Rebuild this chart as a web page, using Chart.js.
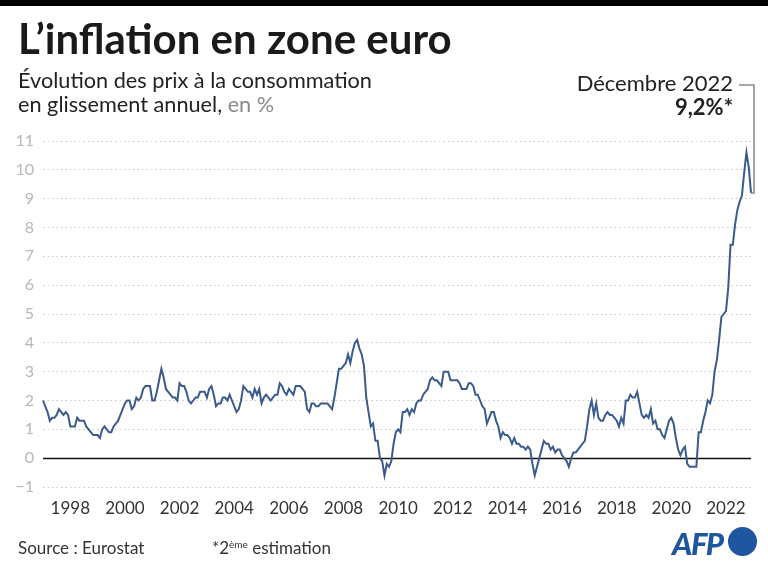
<!DOCTYPE html>
<html lang="fr">
<head>
<meta charset="utf-8">
<script src="https://cdn.jsdelivr.net/npm/chart.js@4.4.0/dist/chart.umd.min.js"></script>
<style>
  html, body { margin: 0; padding: 0; background: #fff; }
  body { width: 768px; height: 572px; position: relative; overflow: hidden;
         font-family: Lato, "Open Sans", sans-serif; color: #1a1a1a; }
  #chart { position: absolute; left: 0; top: 0; }
  .txt { position: absolute; white-space: nowrap; }
  #topbar { position: absolute; left: 0; top: 0; width: 768px; height: 6px; background: #000; }
  #title { left: 18px; top: 13px; font-size: 42px; font-weight: 700; }
  #subtitle { left: 18px; top: 68px; font-size: 21.7px; line-height: 24px; color: #222; }
  .light { color: #8a8a8a; }
  #annot { right: 35px; top: 71px; text-align: right; font-size: 22px; line-height: 24px; color: #222; }
  #annot b { font-weight: 700; }
  #source { left: 18px; top: 537px; font-size: 17px; color: #333; }
  #note { left: 212px; top: 537px; font-size: 17px; color: #333; }
  #note sup { font-size: 10px; vertical-align: 6px; }
  #afp { left: 672px; top: 524px; font-size: 31px; font-weight: 900; font-style: italic;
         color: #1f56a0; letter-spacing: -1.5px; }
  #dot { position: absolute; left: 728px; top: 527px; width: 29px; height: 29px;
         border-radius: 50%; background: #1f56a0; }
</style>
</head>
<body>
<canvas id="chart" width="768" height="572"></canvas>
<div id="topbar"></div>
<div class="txt" id="title">L’inflation en zone euro</div>
<div class="txt" id="subtitle">Évolution des prix à la consommation<br>en glissement annuel, <span class="light">en %</span></div>
<div class="txt" id="annot">Décembre 2022<br><b>9,2%*</b></div>
<div class="txt" id="source">Source : Eurostat</div>
<div class="txt" id="note">*2<sup>ème</sup> estimation</div>
<div class="txt" id="afp">AFP</div>
<div id="dot"></div>
<script>
// years and months of the series (Jan 1997 - Dec 2022)
const years = [1997, 1998, 1999, 2000, 2001, 2002, 2003, 2004, 2005, 2006, 2007, 2008, 2009,
               2010, 2011, 2012, 2013, 2014, 2015, 2016, 2017, 2018, 2019, 2020, 2021, 2022];
const monthNames = ["01", "02", "03", "04", "05", "06", "07", "08", "09", "10", "11", "12"];

// annual rate of change, %, one row per year
const inflation = [
  2.0, 1.8, 1.6, 1.3, 1.4, 1.4, 1.5, 1.7, 1.6, 1.5, 1.6, 1.5,   // 1997
  1.1, 1.1, 1.1, 1.4, 1.3, 1.3, 1.3, 1.1, 1.0, 0.9, 0.8, 0.8,   // 1998
  0.8, 0.7, 1.0, 1.1, 1.0, 0.9, 0.9, 1.1, 1.2, 1.3, 1.5, 1.7,   // 1999
  1.9, 2.0, 2.0, 1.7, 1.8, 2.1, 2.0, 2.1, 2.4, 2.5, 2.5, 2.5,   // 2000
  2.0, 2.0, 2.3, 2.7, 3.1, 2.8, 2.4, 2.3, 2.2, 2.1, 2.1, 2.0,   // 2001
  2.6, 2.5, 2.5, 2.3, 2.0, 1.9, 2.0, 2.1, 2.1, 2.3, 2.3, 2.3,   // 2002
  2.1, 2.4, 2.5, 2.2, 1.8, 1.9, 1.9, 2.1, 2.1, 2.0, 2.2, 2.0,   // 2003
  1.8, 1.6, 1.7, 2.0, 2.5, 2.4, 2.3, 2.3, 2.1, 2.4, 2.2, 2.4,   // 2004
  1.9, 2.1, 2.2, 2.1, 2.0, 2.1, 2.2, 2.2, 2.6, 2.5, 2.3, 2.2,   // 2005
  2.4, 2.3, 2.2, 2.5, 2.5, 2.5, 2.4, 2.3, 1.7, 1.6, 1.9, 1.9,   // 2006
  1.8, 1.8, 1.9, 1.9, 1.9, 1.9, 1.8, 1.7, 2.1, 2.6, 3.1, 3.1,   // 2007
  3.2, 3.3, 3.6, 3.3, 3.7, 4.0, 4.1, 3.8, 3.6, 3.2, 2.1, 1.6,   // 2008
  1.1, 1.2, 0.6, 0.6, 0.0, -0.1, -0.6, -0.2, -0.3, -0.1, 0.5, 0.9, // 2009
  1.0, 0.9, 1.6, 1.6, 1.7, 1.5, 1.7, 1.6, 1.9, 2.0, 2.0, 2.2,   // 2010
  2.3, 2.4, 2.7, 2.8, 2.7, 2.7, 2.6, 2.5, 3.0, 3.0, 3.0, 2.7,   // 2011
  2.7, 2.7, 2.7, 2.6, 2.4, 2.4, 2.4, 2.6, 2.6, 2.5, 2.2, 2.2,   // 2012
  2.0, 1.8, 1.7, 1.2, 1.4, 1.6, 1.6, 1.3, 1.1, 0.7, 0.9, 0.8,   // 2013
  0.8, 0.7, 0.5, 0.7, 0.5, 0.5, 0.4, 0.4, 0.3, 0.4, 0.3, -0.2,  // 2014
  -0.6, -0.3, 0.0, 0.3, 0.6, 0.5, 0.5, 0.3, 0.4, 0.2, 0.3, 0.3, // 2015
  0.1, 0.0, -0.1, -0.3, 0.0, 0.2, 0.2, 0.3, 0.4, 0.5, 0.6, 1.1, // 2016
  1.7, 2.0, 1.5, 1.9, 1.4, 1.3, 1.3, 1.5, 1.6, 1.5, 1.5, 1.4,   // 2017
  1.3, 1.1, 1.4, 1.2, 2.0, 2.0, 2.2, 2.1, 2.1, 2.3, 1.9, 1.5,   // 2018
  1.4, 1.5, 1.4, 1.7, 1.2, 1.3, 1.0, 1.0, 0.8, 0.7, 1.0, 1.3,   // 2019
  1.4, 1.2, 0.7, 0.3, 0.1, 0.3, 0.4, -0.2, -0.3, -0.3, -0.3, -0.3, // 2020
  0.9, 0.9, 1.3, 1.6, 2.0, 1.9, 2.2, 3.0, 3.4, 4.1, 4.9, 5.0,   // 2021
  5.1, 5.9, 7.4, 7.4, 8.1, 8.6, 8.9, 9.1, 9.9, 10.6, 10.1, 9.2  // 2022
];

const xTickYears = ["1998", "2000", "2002", "2004", "2006", "2008", "2010",
                    "2012", "2014", "2016", "2018", "2020", "2022"];
const yTickLabels = ["−1", "0", "1", "2", "3", "4", "5", "6", "7", "8", "9", "10", "11"];

const labels = [];
years.forEach(y => monthNames.forEach(m => labels.push(y + "-" + m)));

// solid zero line + the leader from the "Décembre 2022" note to the last point
const overlay = {
  id: "overlay",
  beforeDatasetsDraw(chart) {
    const { ctx, chartArea, scales: { y } } = chart;
    const y0 = Math.round(y.getPixelForValue(0)) + 0.5;
    ctx.save();
    ctx.strokeStyle = "#111";
    ctx.lineWidth = 1.5;
    ctx.beginPath();
    ctx.moveTo(chartArea.left, y0);
    ctx.lineTo(chartArea.right, y0);
    ctx.stroke();
    ctx.restore();
  },
  afterDatasetsDraw(chart) {
    const { ctx, scales: { x, y } } = chart;
    const last = inflation.length - 1;
    const px = x.getPixelForValue(last);
    const py = y.getPixelForValue(inflation[last]);
    const lx = px + 3;
    ctx.save();
    ctx.strokeStyle = "#8c8c8c";
    ctx.lineWidth = 1.5;
    ctx.beginPath();
    ctx.moveTo(739, 85);
    ctx.lineTo(lx, 85);
    ctx.lineTo(lx, py);
    ctx.lineTo(px, py);
    ctx.stroke();
    ctx.restore();
  }
};

new Chart(document.getElementById("chart"), {
  type: "line",
  data: {
    labels: labels,
    datasets: [{
      data: inflation,
      borderColor: "#3b5b8c",
      borderWidth: 2,
      pointRadius: 0,
      tension: 0,
      fill: false
    }]
  },
  options: {
    responsive: false,
    animation: false,
    events: [],
    layout: { padding: { left: 0, right: 17, top: 141, bottom: 50 } },
    plugins: { legend: { display: false }, tooltip: { enabled: false } },
    scales: {
      x: {
        type: "category",
        offset: false,
        grid: { display: false, drawTicks: false },
        border: { display: false },
        ticks: {
          autoSkip: false,
          maxRotation: 0,
          padding: 11,
          color: "#333",
          font: { family: "Lato", size: 17 },
          callback: function (val) {
            const l = this.getLabelForValue(val);
            const yr = l.slice(0, 4);
            return (l.endsWith("-01") && xTickYears.includes(yr)) ? yr : null;
          }
        },
        afterFit: s => { s.height = 35; }
      },
      y: {
        min: -1,
        max: 11,
        grid: {
          drawTicks: false,
          lineWidth: 1,
          color: c => c.tick.value === 0 ? "rgba(0,0,0,0)" : "#c8c8c8"
        },
        border: { display: false, dash: [1.5, 3] },
        ticks: {
          stepSize: 1,
          padding: 9,
          color: "#b8b8b8",
          font: { family: "Lato", size: 16 },
          callback: v => yTickLabels[v + 1]
        },
        afterFit: s => { s.width = 43; }
      }
    }
  },
  plugins: [overlay]
});
</script>
</body>
</html>
